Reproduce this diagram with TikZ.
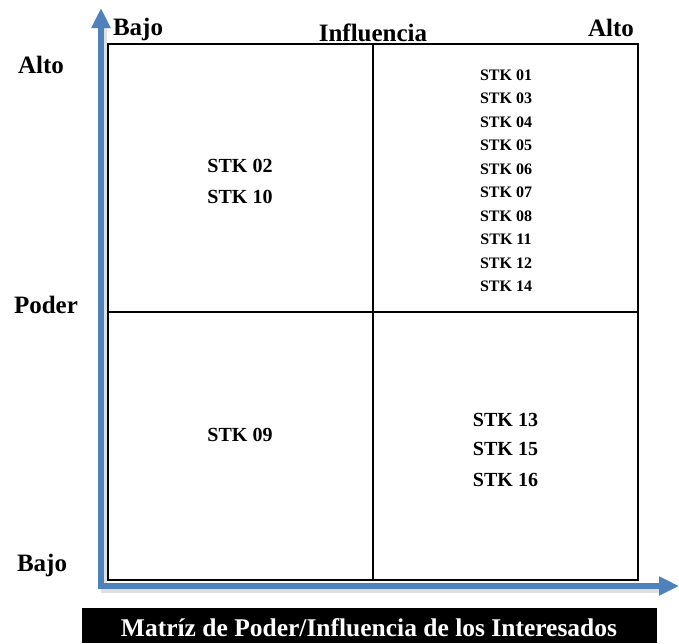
\documentclass[tikz,border=0pt]{standalone}
\usepackage{fontspec}
\setmainfont{Liberation Serif}
\usetikzlibrary{arrows.meta}
\definecolor{axisblue}{HTML}{4F81BD}
\begin{document}
\begin{tikzpicture}[x=1pt,y=-1pt,
  lbl/.style={font=\fontsize{25}{30}\selectfont\bfseries, inner sep=0pt, anchor=base},
  stkbig/.style={font=\fontsize{20}{24}\selectfont\bfseries, inner sep=0pt, anchor=base},
  stksmall/.style={font=\fontsize{16}{19}\selectfont\bfseries, inner sep=0pt, anchor=base},
  gridline/.style={line width=2.4pt, black},
  axisline/.style={line width=6pt, axisblue, {Triangle[width=18pt,length=20pt]}-{Triangle[width=18pt,length=20pt]}}
]
\useasboundingbox (0,0) rectangle (679,643);
% axes
\coordinate (O) at (101,586);
\coordinate (ytip) at (101,8);
\coordinate (xtip) at (679,586);
\draw[line width=6pt, black!25, opacity=0.5] (104,24) -- (104,590) -- (662,590);
\draw[axisline] (ytip) -- (O) -- (xtip);
% matrix
\draw[gridline] (108,44) rectangle (638,580);
\coordinate (vt) at (373,44);
\coordinate (vb) at (373,580);
\coordinate (hl) at (108,312);
\coordinate (hr) at (638,312);
\draw[gridline] (vt) -- (vb);
\draw[gridline] (hl) -- (hr);
% axis labels
\node[lbl] (bajotop) at (138,35) {Bajo};
\node[lbl] (infl) at (373,41) {Influencia};
\node[lbl] (altotop) at (611,36) {Alto};
\node[lbl] (altoleft) at (41,73) {Alto};
\node[lbl] (poder) at (46,313) {Poder};
\node[lbl] (bajoleft) at (42,571) {Bajo};
% quadrant texts
\node[stkbig] (s02) at (240,172) {STK 02};
\node[stkbig] (s10) at (240,203) {STK 10};
\node[stkbig] (s09) at (240,441) {STK 09};
\node[stkbig] (s13) at (505.5,426) {STK 13};
\node[stkbig] (s15) at (505.5,455) {STK 15};
\node[stkbig] (s16) at (505.5,486) {STK 16};
\foreach \t [count=\i from 0] in {01,03,04,05,06,07,08,11,12,14}{
  \node[stksmall] (s\t) at (506,{80.5+23.44*\i}) {STK \t};
}
% title bar
\fill[black] (82,608) rectangle (657,643);
\node[lbl, text=white, font=\fontsize{25.5}{30}\selectfont\bfseries] (title) at (369,636) {Matríz de Poder/Influencia de los Interesados};
\end{tikzpicture}
\end{document}
